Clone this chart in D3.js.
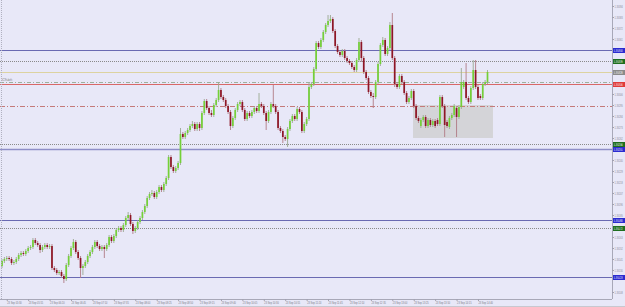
<!DOCTYPE html>
<html><head><meta charset="utf-8">
<script src="https://cdn.jsdelivr.net/npm/d3@7/dist/d3.min.js"></script>
<style>html,body{margin:0;padding:0;background:#e8e8f8;}svg{display:block;font-family:"DejaVu Sans",sans-serif;}</style>
</head><body>
<svg id="c" width="625" height="307"></svg>
<script>
const opens = [1.35134,1.35139,1.35141,1.35142,1.35141,1.35137,1.35138,1.35141,1.35145,1.35147,
1.35146,1.35149,1.35152,1.35153,1.35160,1.35157,1.35155,1.35150,1.35153,1.35155,
1.35153,1.35154,1.35132,1.35130,1.35127,1.35128,1.35124,1.35121,1.35135,1.35144,
1.35152,1.35158,1.35148,1.35142,1.35132,1.35134,1.35138,1.35144,1.35148,1.35153,
1.35158,1.35154,1.35151,1.35153,1.35151,1.35155,1.35163,1.35159,1.35164,1.35170,
1.35172,1.35170,1.35175,1.35182,1.35185,1.35176,1.35169,1.35172,1.35178,1.35182,
1.35188,1.35194,1.35202,1.35206,1.35207,1.35203,1.35208,1.35213,1.35210,1.35216,
1.35222,1.35243,1.35233,1.35229,1.35232,1.35237,1.35266,1.35263,1.35267,1.35270,
1.35274,1.35276,1.35271,1.35276,1.35272,1.35287,1.35299,1.35292,1.35287,1.35285,
1.35295,1.35300,1.35310,1.35303,1.35300,1.35294,1.35288,1.35274,1.35282,1.35290,
1.35296,1.35298,1.35290,1.35281,1.35287,1.35284,1.35288,1.35292,1.35289,1.35296,
1.35294,1.35287,1.35279,1.35288,1.35296,1.35294,1.35288,1.35272,1.35269,1.35263,
1.35261,1.35271,1.35279,1.35284,1.35281,1.35291,1.35288,1.35269,1.35276,1.35281,
1.35313,1.35316,1.35331,1.35357,1.35353,1.35360,1.35368,1.35375,1.35379,1.35381,
1.35369,1.35354,1.35348,1.35345,1.35349,1.35342,1.35339,1.35337,1.35333,1.35330,
1.35340,1.35358,1.35342,1.35328,1.35322,1.35308,1.35304,1.35303,1.35318,1.35336,
1.35355,1.35360,1.35346,1.35352,1.35375,1.35342,1.35316,1.35313,1.35324,1.35318,
1.35307,1.35298,1.35302,1.35309,1.35294,1.35282,1.35274,1.35280,1.35283,1.35274,
1.35280,1.35275,1.35279,1.35280,1.35276,1.35303,1.35294,1.35278,1.35273,1.35282,
1.35285,1.35292,1.35283,1.35293,1.35313,1.35318,1.35302,1.35298,1.35312,1.35330,
1.35313,1.35304,1.35302,1.35316,1.35318];
const closes = [1.35139,1.35141,1.35142,1.35141,1.35137,1.35138,1.35141,1.35145,1.35147,1.35146,
1.35149,1.35152,1.35153,1.35160,1.35157,1.35155,1.35150,1.35153,1.35155,1.35153,
1.35154,1.35132,1.35130,1.35127,1.35128,1.35124,1.35121,1.35135,1.35144,1.35152,
1.35158,1.35148,1.35142,1.35132,1.35134,1.35138,1.35144,1.35148,1.35153,1.35158,
1.35154,1.35151,1.35153,1.35151,1.35155,1.35163,1.35159,1.35164,1.35170,1.35172,
1.35170,1.35175,1.35182,1.35185,1.35176,1.35169,1.35172,1.35178,1.35182,1.35188,
1.35194,1.35202,1.35206,1.35207,1.35203,1.35208,1.35213,1.35210,1.35216,1.35222,
1.35243,1.35233,1.35229,1.35232,1.35237,1.35266,1.35263,1.35267,1.35270,1.35274,
1.35276,1.35271,1.35276,1.35272,1.35287,1.35299,1.35292,1.35287,1.35285,1.35295,
1.35300,1.35310,1.35303,1.35300,1.35294,1.35288,1.35274,1.35282,1.35290,1.35296,
1.35298,1.35290,1.35281,1.35287,1.35284,1.35288,1.35292,1.35289,1.35296,1.35294,
1.35287,1.35279,1.35288,1.35296,1.35294,1.35288,1.35272,1.35269,1.35263,1.35261,
1.35271,1.35279,1.35284,1.35281,1.35291,1.35288,1.35269,1.35276,1.35281,1.35313,
1.35316,1.35331,1.35357,1.35353,1.35360,1.35368,1.35375,1.35379,1.35381,1.35369,
1.35354,1.35348,1.35345,1.35349,1.35342,1.35339,1.35337,1.35333,1.35330,1.35340,
1.35358,1.35342,1.35328,1.35322,1.35308,1.35304,1.35303,1.35318,1.35336,1.35355,
1.35360,1.35346,1.35352,1.35375,1.35342,1.35316,1.35313,1.35324,1.35318,1.35307,
1.35298,1.35302,1.35309,1.35294,1.35282,1.35279,1.35280,1.35283,1.35274,1.35280,
1.35275,1.35279,1.35274,1.35276,1.35303,1.35294,1.35275,1.35274,1.35282,1.35285,
1.35294,1.35283,1.35293,1.35318,1.35318,1.35302,1.35298,1.35312,1.35330,1.35313,
1.35302,1.35302,1.35316,1.35318,1.35328];
const highs = [1.35141,1.35143,1.35144,1.35144,1.35143,1.35140,1.35143,1.35147,1.35149,1.35149,
1.35151,1.35154,1.35155,1.35162,1.35162,1.35159,1.35157,1.35155,1.35157,1.35157,
1.35156,1.35156,1.35134,1.35132,1.35130,1.35130,1.35126,1.35137,1.35146,1.35154,
1.35161,1.35160,1.35150,1.35144,1.35136,1.35140,1.35146,1.35150,1.35155,1.35160,
1.35160,1.35156,1.35155,1.35155,1.35157,1.35165,1.35165,1.35166,1.35172,1.35174,
1.35174,1.35177,1.35184,1.35188,1.35187,1.35178,1.35174,1.35180,1.35184,1.35190,
1.35196,1.35204,1.35208,1.35210,1.35209,1.35210,1.35215,1.35215,1.35218,1.35224,
1.35245,1.35245,1.35235,1.35234,1.35239,1.35272,1.35268,1.35269,1.35272,1.35276,
1.35279,1.35278,1.35278,1.35278,1.35289,1.35301,1.35301,1.35294,1.35290,1.35297,
1.35302,1.35318,1.35312,1.35305,1.35302,1.35296,1.35290,1.35284,1.35292,1.35298,
1.35300,1.35300,1.35292,1.35289,1.35289,1.35290,1.35294,1.35294,1.35307,1.35298,
1.35296,1.35289,1.35290,1.35298,1.35315,1.35296,1.35290,1.35274,1.35271,1.35265,
1.35273,1.35281,1.35286,1.35286,1.35293,1.35293,1.35290,1.35278,1.35283,1.35317,
1.35318,1.35333,1.35359,1.35359,1.35362,1.35370,1.35377,1.35385,1.35385,1.35383,
1.35371,1.35356,1.35350,1.35351,1.35351,1.35344,1.35341,1.35339,1.35335,1.35342,
1.35362,1.35360,1.35344,1.35330,1.35324,1.35310,1.35307,1.35320,1.35338,1.35357,
1.35363,1.35362,1.35354,1.35378,1.35387,1.35344,1.35318,1.35326,1.35326,1.35320,
1.35309,1.35304,1.35311,1.35311,1.35296,1.35284,1.35282,1.35285,1.35285,1.35282,
1.35282,1.35281,1.35281,1.35282,1.35305,1.35305,1.35296,1.35280,1.35284,1.35287,
1.35296,1.35294,1.35295,1.35332,1.35320,1.35337,1.35304,1.35314,1.35340,1.35340,
1.35315,1.35306,1.35318,1.35320,1.35330];
const lows = [1.35132,1.35137,1.35139,1.35139,1.35135,1.35135,1.35136,1.35139,1.35143,1.35144,
1.35144,1.35147,1.35150,1.35151,1.35155,1.35153,1.35147,1.35148,1.35151,1.35151,
1.35151,1.35130,1.35128,1.35125,1.35125,1.35122,1.35117,1.35119,1.35133,1.35142,
1.35150,1.35146,1.35140,1.35122,1.35125,1.35132,1.35136,1.35142,1.35146,1.35151,
1.35152,1.35149,1.35149,1.35142,1.35149,1.35153,1.35157,1.35157,1.35162,1.35168,
1.35168,1.35168,1.35173,1.35180,1.35174,1.35166,1.35167,1.35170,1.35176,1.35180,
1.35186,1.35192,1.35200,1.35204,1.35201,1.35201,1.35206,1.35208,1.35208,1.35214,
1.35220,1.35231,1.35227,1.35227,1.35230,1.35235,1.35261,1.35261,1.35265,1.35268,
1.35272,1.35269,1.35269,1.35269,1.35270,1.35285,1.35290,1.35285,1.35283,1.35283,
1.35293,1.35298,1.35301,1.35298,1.35292,1.35286,1.35270,1.35272,1.35280,1.35288,
1.35294,1.35288,1.35279,1.35279,1.35282,1.35282,1.35286,1.35287,1.35287,1.35292,
1.35285,1.35270,1.35277,1.35286,1.35292,1.35286,1.35270,1.35267,1.35257,1.35259,
1.35253,1.35269,1.35277,1.35279,1.35279,1.35286,1.35267,1.35267,1.35274,1.35279,
1.35311,1.35314,1.35329,1.35351,1.35351,1.35358,1.35366,1.35373,1.35377,1.35367,
1.35352,1.35346,1.35343,1.35343,1.35340,1.35337,1.35335,1.35331,1.35328,1.35328,
1.35338,1.35338,1.35326,1.35320,1.35306,1.35302,1.35292,1.35301,1.35316,1.35334,
1.35353,1.35344,1.35344,1.35350,1.35340,1.35313,1.35311,1.35311,1.35316,1.35305,
1.35296,1.35296,1.35300,1.35292,1.35280,1.35277,1.35272,1.35278,1.35272,1.35272,
1.35273,1.35273,1.35272,1.35274,1.35274,1.35292,1.35263,1.35272,1.35271,1.35280,
1.35283,1.35263,1.35281,1.35291,1.35311,1.35300,1.35296,1.35296,1.35310,1.35311,
1.35300,1.35300,1.35300,1.35314,1.35316];

const priceTicks = [1.35394,1.35383,1.35372,1.35361,1.35350,1.35339,1.35328,1.35317,1.35306,1.35295,
1.35284,1.35273,1.35262,1.35251,1.35240,1.35229,1.35218,1.35207,1.35196,1.35185,
1.35174,1.35163,1.35152,1.35141,1.35130,1.35119,1.35108];
const timeLabels = ["23 Sep 05:30","23 Sep 05:55","23 Sep 06:20","23 Sep 06:45","23 Sep 07:10","23 Sep 07:35",
"23 Sep 08:00","23 Sep 08:25","23 Sep 08:50","23 Sep 09:15","23 Sep 09:40","23 Sep 10:05","23 Sep 10:30",
"23 Sep 10:55","23 Sep 11:20","23 Sep 11:45","23 Sep 12:10","23 Sep 12:35","23 Sep 13:00","23 Sep 13:25",
"23 Sep 13:50","23 Sep 14:15","23 Sep 14:40"];
const labelEvery = 9, labelFirst = 2;

// horizontal levels: price, kind
const levelPrices = [1.35350,1.35339,1.35328,1.35318,1.35316,1.35294,1.35256,1.35251,1.35180,1.35172,1.35123];
const levelKinds  = ["blue","dot","bid","dashdot","red","dashred","dot","blue2","blue","dot","blue"];
const boxPrice = [1.35295, 1.35262];
const boxBars = [172.7, 206.3];
const chanLabel = "Chan";

const W = 625, H = 307, plotR = 612, plotB = 299;
const svg = d3.select("#c");
const n = opens.length;
const x = d3.scaleLinear().domain([0, n-1]).range([2, 487.5]);
const y = d3.scaleLinear().domain([1.35400, 1.35100]).range([0, 300]);
const fmt = d3.format(".5f");

svg.append("rect").attr("width",W).attr("height",H).attr("fill","#e8e8f8");

// rectangle
svg.append("rect").attr("x",x(boxBars[0])).attr("y",y(boxPrice[0]))
  .attr("width",x(boxBars[1])-x(boxBars[0])).attr("height",y(boxPrice[1])-y(boxPrice[0]))
  .attr("fill","#d4d4d8");

const style = {
  blue:{c:"#6a6ab2",w:1.2,d:null,box:"#2b2bd0"},
  blue2:{c:"#8e8ec8",w:1.6,d:null,box:"#2b2bd0"},
  dot:{c:"#8a8a8a",w:1,d:"1,1",box:"#1e6e1e"},
  bid:{c:"#ddd3a0",w:1,d:null,box:"#8a8a8a"},
  dashdot:{c:"#9db09d",w:1,d:"4,2,1,2",box:null},
  red:{c:"#d86868",w:1,d:null,box:"#e03a3a"},
  dashred:{c:"#c47a7a",w:1,d:"5,2,1,2",box:null}
};
levelPrices.forEach((p,i)=>{
  const s = style[levelKinds[i]];
  const yy = Math.round(y(p))+0.5;
  const l = svg.append("line").attr("x1",0).attr("x2",plotR).attr("y1",yy).attr("y2",yy)
    .attr("stroke",s.c).attr("stroke-width",s.w);
  if (s.d) l.attr("stroke-dasharray",s.d);
});
svg.append("text").attr("x",2).attr("y",y(levelPrices[3])-0.8).attr("font-size",4).attr("fill","#808080").text(chanLabel);

// candles
const idx = d3.range(n);
svg.append("g").selectAll("line").data(idx).join("line")
  .attr("x1",i=>x(i)).attr("x2",i=>x(i)).attr("y1",i=>y(highs[i])).attr("y2",i=>y(lows[i]))
  .attr("stroke",i=>closes[i]>=opens[i]?"#9aa890":"#b07a84").attr("stroke-width",0.9);
svg.append("g").selectAll("rect").data(idx).join("rect")
  .attr("x",i=>x(i)-0.85).attr("width",1.7)
  .attr("y",i=>y(Math.max(opens[i],closes[i])))
  .attr("height",i=>Math.max(0.8,Math.abs(y(opens[i])-y(closes[i]))))
  .attr("fill",i=>closes[i]>=opens[i]?"#74d038":"#8e1626");

// frame
svg.append("line").attr("x1",plotR+0.5).attr("x2",plotR+0.5).attr("y1",0).attr("y2",plotB).attr("stroke","#a8a8b8");
svg.append("line").attr("x1",0).attr("x2",plotR).attr("y1",plotB+0.5).attr("y2",plotB+0.5).attr("stroke","#a8a8b8");
svg.append("line").attr("x1",1.5).attr("x2",1.5).attr("y1",0).attr("y2",plotB).attr("stroke","#b0b0c0").attr("stroke-dasharray","1,1");
svg.append("line").attr("x1",0).attr("x2",W).attr("y1",306.5).attr("y2",306.5).attr("stroke","#c8c8d0");

// price axis: hide tick labels hidden behind level boxes
const sxP = 0.6;
const boxYs = levelPrices.filter((p,i)=>style[levelKinds[i]].box).map(p=>y(p));
const shownTicks = priceTicks.filter(p=>boxYs.every(b=>Math.abs(y(p)-b)>5));
const ya = d3.axisRight(y).tickValues(shownTicks).tickSize(2).tickFormat(fmt);
const gy = svg.append("g").attr("transform",`translate(${plotR},0)`).call(ya);
gy.select(".domain").remove();
gy.selectAll("line").attr("stroke","#a0a0b0");
gy.selectAll("text").attr("font-size",3.8).attr("fill","#8a8a96").attr("x",2.5/sxP)
  .attr("transform",`scale(${sxP},1)`);

// level boxes
levelPrices.forEach((p,i)=>{
  const s = style[levelKinds[i]];
  if (!s.box) return;
  const yy = Math.round(y(p))+0.5;
  svg.append("rect").attr("x",plotR+1).attr("y",yy-2.5).attr("width",W-plotR).attr("height",5).attr("fill",s.box);
  svg.append("text").attr("transform",`translate(${plotR+1.8},${yy+1.3}) scale(${sxP},1)`)
    .attr("font-size",3.6).attr("fill","#fff").text(fmt(p));
});

// time axis
const sxT = 0.64;
const tpos = timeLabels.map((t,k)=>labelFirst+labelEvery*k);
const xa = d3.axisBottom(x).tickValues(tpos).tickSize(2).tickFormat((d,k)=>timeLabels[k]);
const gx = svg.append("g").attr("transform",`translate(0,${plotB})`).call(xa);
gx.select(".domain").remove();
gx.selectAll("line").attr("stroke","#a0a0b0");
gx.selectAll("text").attr("font-size",3.8).attr("fill","#7a7a86").attr("text-anchor","start").attr("dy",0)
  .attr("y",5.4).attr("transform",`scale(${sxT},1)`);
</script>
</body></html>
